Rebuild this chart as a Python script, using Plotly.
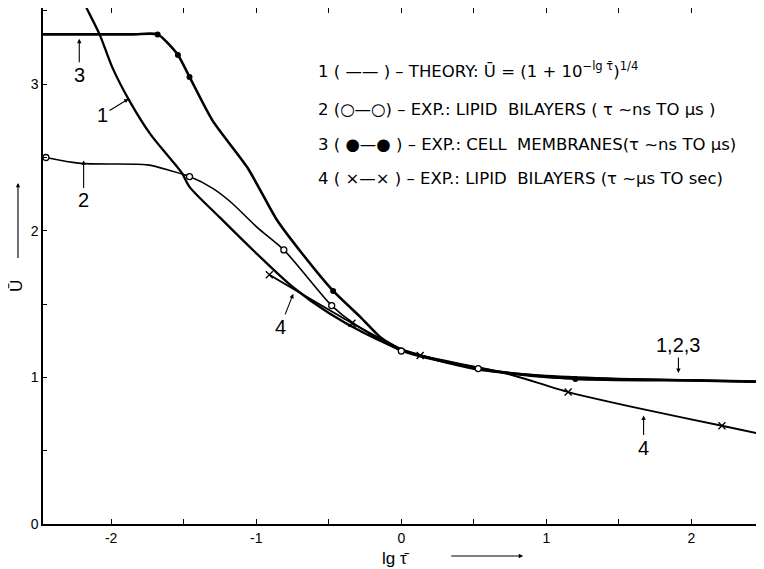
import plotly.graph_objects as go

# ---- data ----
theory_x = [-2.22, -2.17, -2.08, -1.99, -1.87, -1.73, -1.59, -1.51, -1.46, -1.25, -0.95,
            -0.74, -0.50, -0.25, 0.00, 0.25, 0.50, 0.75, 1.00, 1.50, 2.00, 2.50]
theory_u = [3.62, 3.52, 3.34, 3.11, 2.88, 2.66, 2.49, 2.39, 2.30, 2.09, 1.80,
            1.61, 1.44, 1.30, 1.19, 1.12, 1.07, 1.03, 1.01, 0.99, 0.98, 0.97]

bil_ns_x = [-2.45, -2.21, -1.75, -1.59, -1.46, -1.30, -1.18, -0.99, -0.81, -0.48, -0.33, 0.00,
            0.53, 1.00, 1.50, 2.00, 2.50]
bil_ns_u = [2.50, 2.46, 2.45, 2.41, 2.37, 2.29, 2.20, 2.02, 1.87, 1.49, 1.37, 1.18,
            1.06, 1.00, 0.99, 0.98, 0.97]
bil_ns_pts_x = [-2.45, -1.46, -0.81, -0.48, 0.00, 0.53]
bil_ns_pts_u = [2.50, 2.37, 1.87, 1.49, 1.18, 1.06]

cell_x = [-2.47, -1.85, -1.68, -1.54, -1.46, -1.30, -1.06, -0.855, -0.68, -0.47, -0.28, -0.14,
          0.00, 0.50, 1.20, 2.00, 2.50]
cell_u = [3.34, 3.34, 3.34, 3.20, 3.05, 2.75, 2.43, 2.07, 1.84, 1.59, 1.41, 1.27,
          1.19, 1.06, 0.99, 0.98, 0.97]
cell_pts_x = [-1.68, -1.54, -1.46, -0.47, 1.20]
cell_pts_u = [3.34, 3.20, 3.05, 1.59, 0.99]

bil_sec_x = [-0.91, -0.34, 0.00, 0.13, 0.52, 0.75, 1.15, 1.68, 2.21, 2.50]
bil_sec_u = [1.70, 1.37, 1.19, 1.15, 1.07, 1.02, 0.90, 0.78, 0.67, 0.61]
bil_sec_pts_x = [-0.91, -0.34, 0.13, 1.15, 2.21]
bil_sec_pts_u = [1.70, 1.37, 1.15, 0.90, 0.67]

x_tickvals = [-2, -1, 0, 1, 2]
x_ticktext = ["-2", "-1", "0", "1", "2"]
y_tickvals = [0, 1, 2, 3]
y_ticktext = ["0", "1", "2", "3"]

legend_lines = [
    "1 ( —— ) – THEORY: Ū = (1 + 10<sup>−lg τ̄</sup>)<sup>1/4</sup>",
    "2 (○—○) – EXP.: LIPID  BILAYERS ( τ ~ns TO μs )",
    "3 ( ●—● ) – EXP.: CELL  MEMBRANES(τ ~ns TO μs)",
    "4 ( ×—× ) – EXP.: LIPID  BILAYERS (τ ~μs TO sec)",
]

FONT = "Liberation Sans"
LEG_FONT = "DejaVu Sans"
X_RANGE = [-2.47, 2.50]
Y_RANGE = [0, 3.52]

fig = go.Figure()

fig.add_trace(go.Scatter(x=theory_x, y=theory_u, mode="lines",
                         line=dict(color="black", width=2.3, shape="spline", smoothing=0.8)))
fig.add_trace(go.Scatter(x=bil_ns_x, y=bil_ns_u, mode="lines",
                         line=dict(color="black", width=1.6, shape="spline", smoothing=0.8)))
fig.add_trace(go.Scatter(x=cell_x, y=cell_u, mode="lines",
                         line=dict(color="black", width=2.6, shape="spline", smoothing=0.6)))
fig.add_trace(go.Scatter(x=bil_sec_x, y=bil_sec_u, mode="lines",
                         line=dict(color="black", width=1.9, shape="spline", smoothing=0.6)))

fig.add_trace(go.Scatter(x=bil_ns_pts_x, y=bil_ns_pts_u, mode="markers",
                         marker=dict(symbol="circle", size=6, color="white",
                                     line=dict(color="black", width=1.3))))
fig.add_trace(go.Scatter(x=cell_pts_x, y=cell_pts_u, mode="markers",
                         marker=dict(symbol="circle", size=6, color="black")))
fig.add_trace(go.Scatter(x=bil_sec_pts_x, y=bil_sec_pts_u, mode="markers",
                         marker=dict(symbol="x-thin", size=7, color="black",
                                     line=dict(color="black", width=1.3))))

# legend block as text
leg_y = [3.10, 2.83, 2.59, 2.36]
for txt, yy in zip(legend_lines, leg_y):
    fig.add_annotation(x=-0.59, y=yy, xref="x", yref="y", text=txt, showarrow=False,
                       xanchor="left", yanchor="middle",
                       font=dict(family=LEG_FONT, size=16.5, color="black"))

# curve labels with arrows (x, y = arrow tip; ax, ay = label offset in px)
labels = [
    ("3", -2.22, 3.31, 0, 36),
    ("2", -2.19, 2.48, 0, 40),
    ("1", -1.88, 2.90, -26, 16),
    ("4", -0.745, 1.57, -13, 33),
    ("1,2,3", 1.91, 1.03, 0, -28),
    ("4", 1.67, 0.74, 0, 32),
]
for t, xx, yy, ax, ay in labels:
    fig.add_annotation(x=xx, y=yy, xref="x", yref="y", text=t, showarrow=True,
                       ax=ax, ay=ay, arrowhead=2, arrowsize=0.8, arrowwidth=1.1,
                       arrowcolor="black", standoff=0,
                       font=dict(family=FONT, size=20, color="black"))

# y-axis title with arrow
fig.add_annotation(x=-0.037, y=0.462, xref="paper", yref="paper", text="Ū",
                   textangle=-90, showarrow=False, xanchor="center", yanchor="middle",
                   font=dict(family=FONT, size=17, color="black"))
fig.add_annotation(x=-0.0347, y=0.661, xref="paper", yref="paper", text=" ",
                   showarrow=True, ax=0, ay=85, arrowhead=2, arrowsize=0.8,
                   arrowwidth=1.1, arrowcolor="black")

# x-axis title with arrow
fig.add_annotation(x=-0.04, y=-0.066, xref="x", yref="paper", text="lg τ̄",
                   showarrow=False, xanchor="center", yanchor="middle",
                   font=dict(family=FONT, size=17, color="black"))
fig.add_annotation(x=0.84, y=-0.062, xref="x", yref="paper", text=" ",
                   showarrow=True, ax=-75, ay=0, arrowhead=2, arrowsize=0.8,
                   arrowwidth=1.1, arrowcolor="black")

minor_x = dict(ticks="inside", dtick=0.5, tick0=0, ticklen=5, tickwidth=1.2,
               tickcolor="black", showgrid=False)
minor_y = dict(ticks="inside", dtick=0.5, tick0=0, ticklen=4, tickwidth=1.2,
               tickcolor="black", showgrid=False)

# the page body adds an 8 px offset, so the figure is 8 px smaller than the window
fig.update_layout(
    width=756, height=561,
    margin=dict(l=35, r=0, t=0, b=45),
    paper_bgcolor="white", plot_bgcolor="white",
    showlegend=False,
    xaxis=dict(range=X_RANGE, tickvals=x_tickvals, ticktext=x_ticktext,
               ticks="inside", ticklen=5, tickwidth=1.2, tickcolor="black",
               minor=minor_x,
               showline=True, linecolor="black", linewidth=1.5,
               showgrid=False, zeroline=False,
               tickfont=dict(family=FONT, size=14, color="black")),
    xaxis2=dict(range=X_RANGE, overlaying="x", side="top", matches="x",
                tickvals=x_tickvals, showticklabels=False,
                ticks="inside", ticklen=5, tickwidth=1.2, tickcolor="black",
                minor=minor_x,
                showline=True, linecolor="black", linewidth=1.5,
                showgrid=False, zeroline=False),
    yaxis=dict(range=Y_RANGE, tickvals=y_tickvals, ticktext=y_ticktext,
               ticks="inside", ticklen=4, tickwidth=1.2, tickcolor="black",
               minor=minor_y,
               showline=True, linecolor="black", linewidth=1.5,
               showgrid=False, zeroline=False,
               tickfont=dict(family=FONT, size=14, color="black")),
)
# invisible trace to anchor the top axis
fig.add_trace(go.Scatter(x=[0], y=[0], xaxis="x2", mode="markers",
                         marker=dict(opacity=0), hoverinfo="skip"))

fig.write_html("out.html")
